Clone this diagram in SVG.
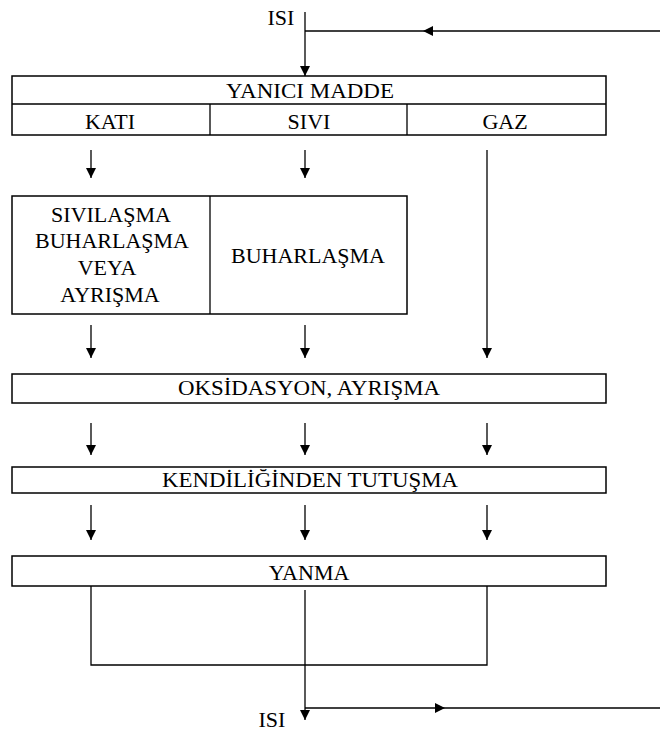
<svg xmlns="http://www.w3.org/2000/svg" width="660" height="736" viewBox="0 0 660 736" font-family="'Liberation Serif', 'Times New Roman', 'DejaVu Serif', serif">
<style>
.b{fill:#fff;stroke:#000;stroke-width:1.5}
.l{fill:none;stroke:#000;stroke-width:1.3}
text{font-family:"Liberation Serif","Times New Roman","DejaVu Serif",serif;font-size:22px;fill:#000;text-anchor:middle}
</style>
<defs>
<marker id="a" markerWidth="10" markerHeight="12" refX="10" refY="6" orient="auto" markerUnits="userSpaceOnUse"><path d="M0,1 L10,6 L0,11 z" fill="#000"/></marker>
<marker id="m" markerWidth="10" markerHeight="12" refX="5" refY="6" orient="auto" markerUnits="userSpaceOnUse"><path d="M0,1 L10,6 L0,11 z" fill="#000"/></marker>
</defs>
<rect width="660" height="736" fill="#fff"/>
<g id="connectors">
<path class="l" d="M305,12 V76" marker-end="url(#a)"/>
<path class="l" d="M660,31 H428" marker-end="url(#m)"/>
<path class="l" d="M428,31 H305"/>
<path class="l" d="M91,150 V178" marker-end="url(#a)"/>
<path class="l" d="M305,150 V178" marker-end="url(#a)"/>
<path class="l" d="M487,150 V358" marker-end="url(#a)"/>
<path class="l" d="M91,325 V358" marker-end="url(#a)"/>
<path class="l" d="M305,325 V358" marker-end="url(#a)"/>
<path class="l" d="M91,423 V455" marker-end="url(#a)"/>
<path class="l" d="M305,423 V455" marker-end="url(#a)"/>
<path class="l" d="M487,423 V455" marker-end="url(#a)"/>
<path class="l" d="M91,505 V540" marker-end="url(#a)"/>
<path class="l" d="M305,505 V540" marker-end="url(#a)"/>
<path class="l" d="M487,505 V540" marker-end="url(#a)"/>
<path class="l" d="M91,586 V665 H487 V586"/>
<path class="l" d="M305,590 V720" marker-end="url(#a)"/>
<path class="l" d="M305,708 H440" marker-end="url(#m)"/>
<path class="l" d="M440,708 H660"/>
</g>
<text x="281" y="25">ISI</text>
<g id="yanici">
<rect class="b" x="12" y="76" width="594" height="59"/>
<path class="l" d="M12,104 H606 M210,104 V135 M407,104 V135"/>
<text x="310" y="98" textLength="168" lengthAdjust="spacingAndGlyphs">YANICI MADDE</text>
<text x="110" y="129">KATI</text>
<text x="309" y="129">SIVI</text>
<text x="505" y="129">GAZ</text>
</g>
<g id="faz">
<rect class="b" x="12" y="196" width="395" height="118"/>
<path class="l" d="M210,196 V314"/>
<text x="111" y="222">SIVILAŞMA</text>
<text x="112" y="248">BUHARLAŞMA</text>
<text x="107" y="275">VEYA</text>
<text x="110" y="302">AYRIŞMA</text>
<text x="308" y="263">BUHARLAŞMA</text>
</g>
<g id="oksidasyon">
<rect class="b" x="12" y="374" width="594" height="29"/>
<text x="309" y="395" textLength="262" lengthAdjust="spacingAndGlyphs">OKSİDASYON, AYRIŞMA</text>
</g>
<g id="kendiliginden">
<rect class="b" x="12" y="467" width="594" height="26"/>
<text x="310" y="487" textLength="296" lengthAdjust="spacingAndGlyphs">KENDİLİĞİNDEN TUTUŞMA</text>
</g>
<g id="yanma">
<rect class="b" x="12" y="556" width="594" height="30"/>
<text x="309" y="580">YANMA</text>
</g>
<text x="272" y="727">ISI</text>
</svg>
